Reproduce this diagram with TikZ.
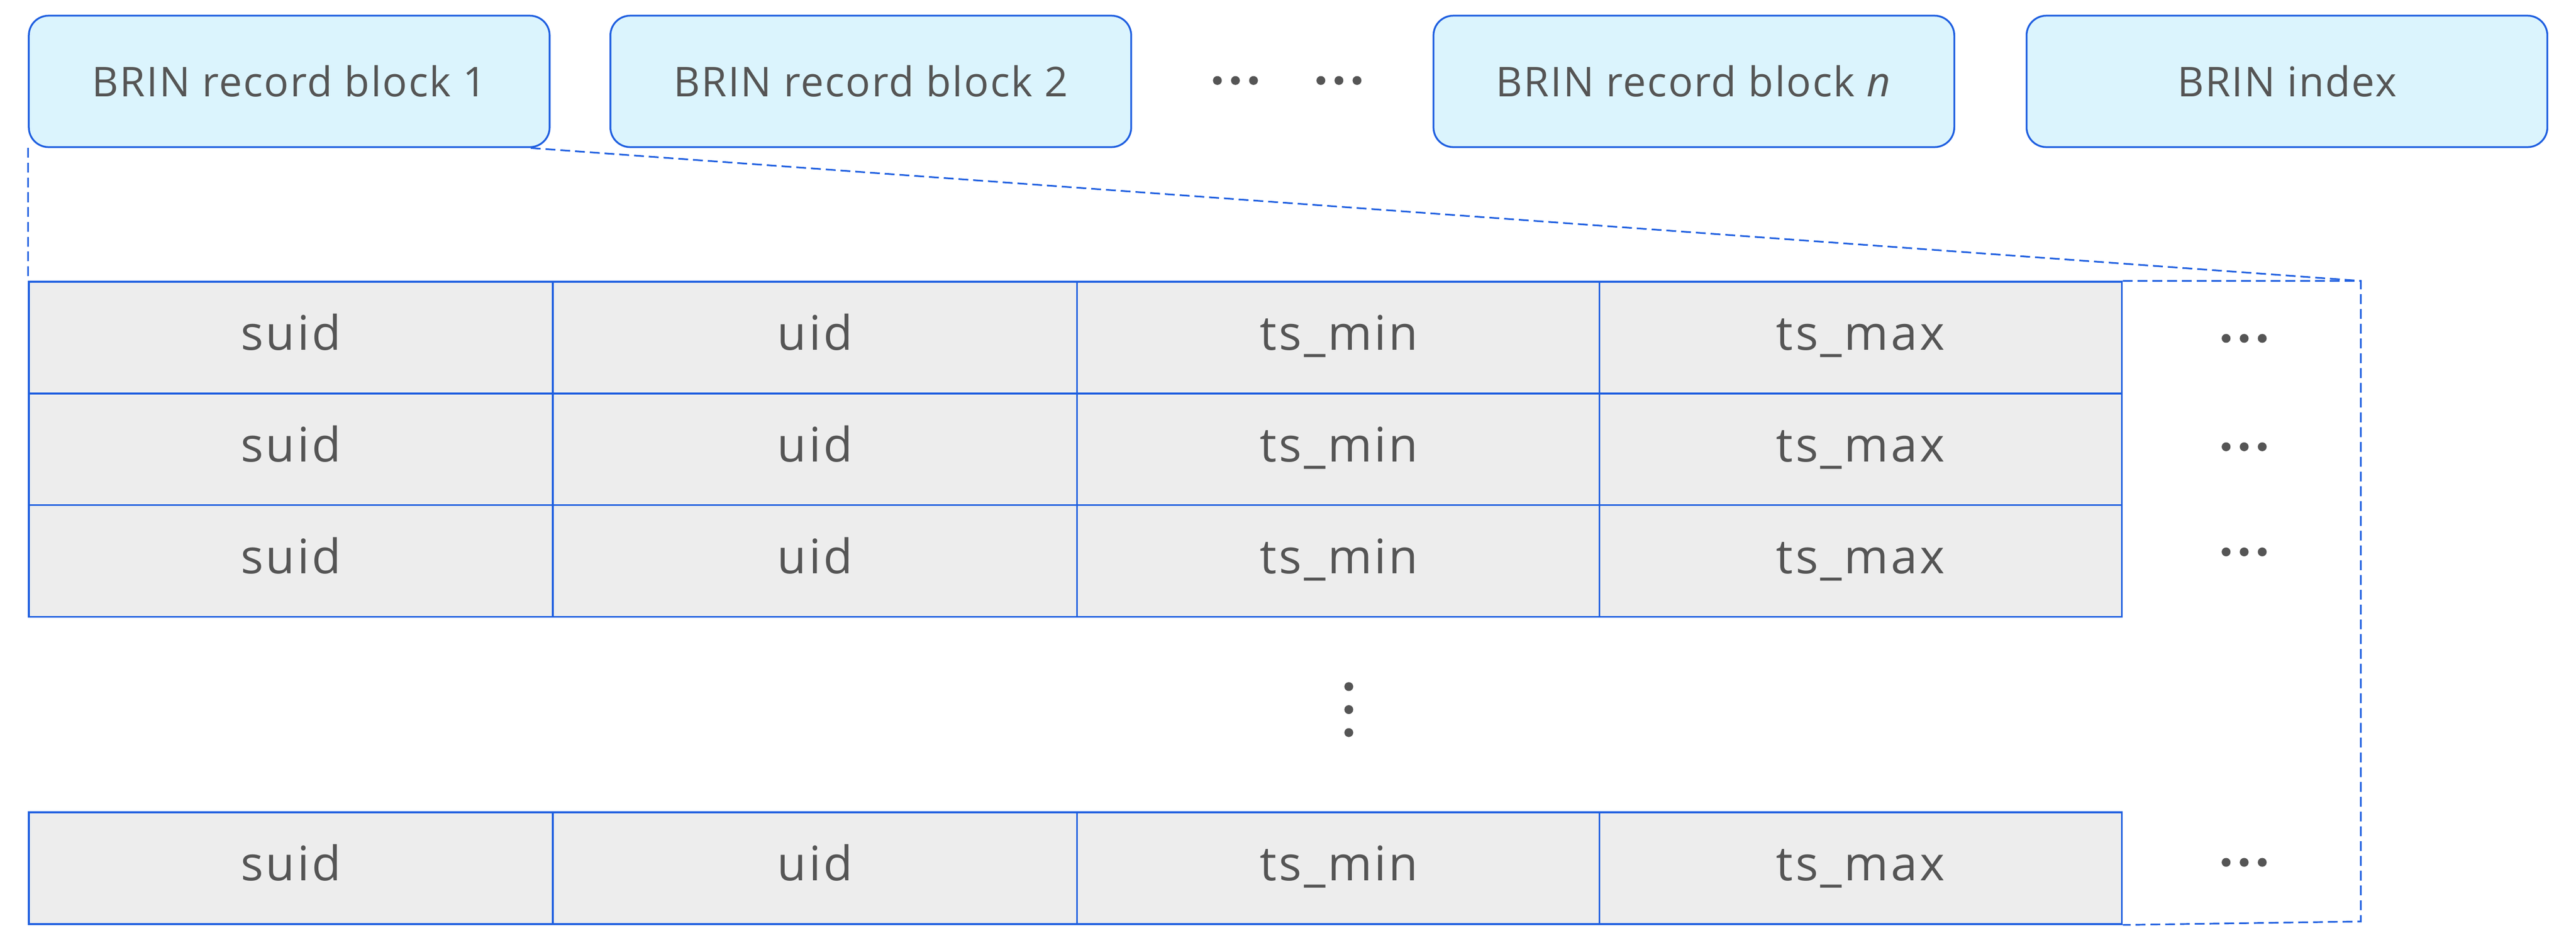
\documentclass[tikz,border=0pt]{standalone}
\usepackage{fontspec}
\setmainfont{Open Sans}
\definecolor{ln}{HTML}{1F5FE0}
\definecolor{tx}{HTML}{555555}
\newcommand{\hdots}{\tikz[x=1pt,y=1pt]{\foreach \i in {0,11,22}\fill[tx] (\i,0) circle (2.7pt);}}
\newcommand{\vdts}{\tikz[x=1pt,y=1pt]{\foreach \i in {0,14,28}\fill[tx] (0,\i) circle (2.7pt);}}
\begin{document}
\begin{tikzpicture}[x=1pt,y=-1pt,
  blk/.style={draw=ln,line width=1.1pt,fill=cyan!14,rounded corners=12pt,minimum width=317pt,minimum height=80pt,anchor=north west,inner sep=0pt,font=\fontsize{25}{30}\selectfont\addfontfeatures{LetterSpace=3},text=tx},
  cell/.style={draw=ln,line width=1.1pt,fill=black!7,minimum width=319pt,minimum height=68pt,anchor=north west,inner sep=0pt,font=\fontsize{29}{34}\selectfont\addfontfeatures{LetterSpace=5},text=tx,text height=21pt,text depth=6pt},
  dots/.style={inner sep=0pt},
  dsh/.style={draw=ln,dash pattern=on 6pt off 3pt,line width=1pt}]
\useasboundingbox (0,0) rectangle (1568,571);
\node[blk] (b1) at (17,9) {BRIN record block 1};
\node[blk] (b2) at (371,9) {BRIN record block 2};
\node[blk] (bn) at (872,9) {BRIN record block \textit{n}};
\node[blk] (bi) at (1233,9) {BRIN index};
\node[dots] (d1) at (752,49) {\hdots};
\node[dots] (d2) at (815,49) {\hdots};
\foreach \r/\y/\d in {1/171/35,2/239/33,3/307/29,4/494/31}{
  \node[cell] (s\r) at (17,\y) {suid};
  \node[cell] (u\r) at (336,\y) {uid};
  \node[cell] (m\r) at (655,\y) {ts\_min};
  \node[cell,minimum width=318pt] (x\r) at (973,\y) {ts\_max};
  \node[dots] (e\r) at (1366,\y+\d) {\hdots};
}
\node[dots] (vd) at (821,432) {\vdts};
\coordinate (tr) at (1437,171);
\coordinate (br) at (1437,561);
\draw[dsh] (b1.south west) -- (s1.north west);
\draw[dsh] ([xshift=-12pt]b1.south east) -- (tr);
\draw[dsh] (x1.north east) -- (tr) -- (br) -- (x4.south east);
\end{tikzpicture}
\end{document}
